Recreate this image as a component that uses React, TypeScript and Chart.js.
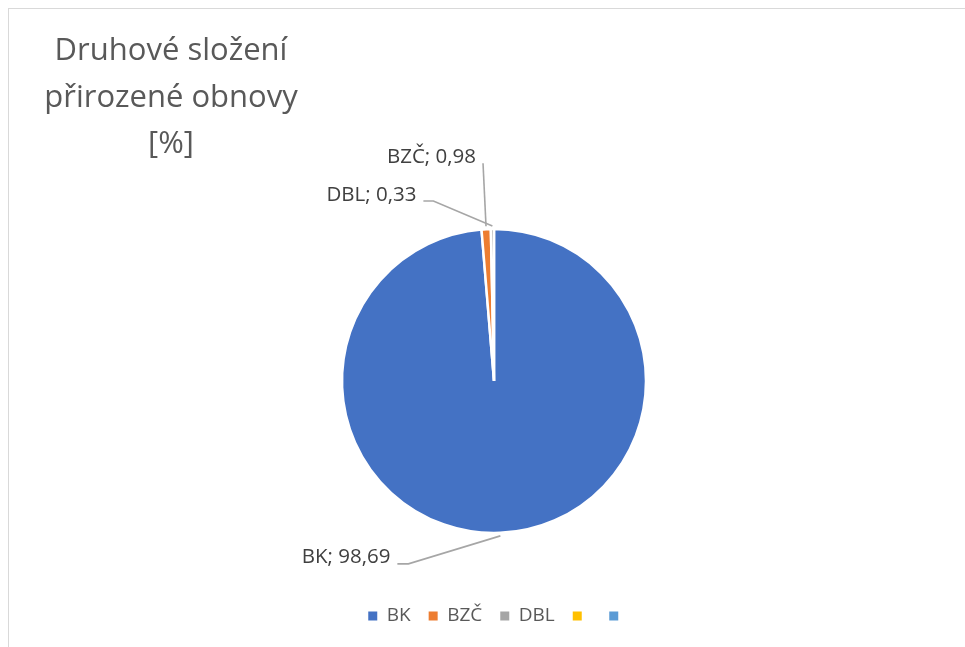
import React, { useEffect, useRef } from "react";
import { Chart, registerables } from "chart.js";

Chart.register(...registerables);

const categories = ["BK", "BZČ", "DBL", "", ""];
const values = [98.69, 0.98, 0.33, 0, 0];
const colors = ["#4472C4", "#ED7D31", "#A5A5A5", "#FFC000", "#5B9BD5"];
const titleLines = ["Druhové složení", "přirozené obnovy", "[%]"];

const FONT = '"Open Sans", "DejaVu Sans", sans-serif';
const fmt = (v: number) => v.toFixed(2).replace(".", ",");

// leader-line styling per labelled slice (offsets from the slice anchor)
const leaderLayout = [
  { dx: -92, dy: 28, tail: 11, ty: -7 },
  { dx: -3, dy: -63, tail: 0, ty: -6 },
  { dx: -59, dy: -25, tail: 10, ty: -6 },
];

const titlePlugin = {
  id: "sideTitle",
  afterDraw(chart: any) {
    const ctx = chart.ctx;
    ctx.save();
    ctx.font = `400 31px ${FONT}`;
    ctx.fillStyle = "#595959";
    ctx.textAlign = "center";
    ctx.textBaseline = "alphabetic";
    titleLines.forEach((t, i) => ctx.fillText(t, 162, 51 + i * 46.5));
    ctx.restore();
  },
};

const legendShift = {
  id: "legendShift",
  afterLayout(chart: any) {
    if (chart.legend) {
      chart.legend.left += 4;
      chart.legend.right += 4;
    }
  },
};

const labelPlugin = {
  id: "pieLabels",
  afterDatasetsDraw(chart: any) {
    const ctx = chart.ctx;
    const meta = chart.getDatasetMeta(0);
    ctx.save();
    ctx.strokeStyle = "#A6A6A6";
    ctx.lineWidth = 1.6;
    ctx.fillStyle = "#404040";
    ctx.font = `20.5px ${FONT}`;
    ctx.textAlign = "right";
    ctx.textBaseline = "middle";
    meta.data.forEach((arc: any, i: number) => {
      const lay = leaderLayout[i];
      if (!lay || !values[i]) return;
      const { x, y, startAngle, endAngle, outerRadius } = arc.getProps(
        ["x", "y", "startAngle", "endAngle", "outerRadius"],
        true
      );
      const mid = (startAngle + endAngle) / 2;
      const ax = x + Math.cos(mid) * (outerRadius + 3);
      const ay = y + Math.sin(mid) * (outerRadius + 3);
      const ex = ax + lay.dx;
      const ey = ay + lay.dy;
      const tx = ex - lay.tail;
      ctx.beginPath();
      ctx.moveTo(ax, ay);
      ctx.lineTo(ex, ey);
      ctx.lineTo(tx, ey);
      ctx.stroke();
      ctx.fillText(`${categories[i]}; ${fmt(values[i])}`, tx - 7, ey + lay.ty);
    });
    ctx.restore();
  },
};

export default function App() {
  const ref = useRef<HTMLCanvasElement>(null);
  useEffect(() => {
    if (!ref.current) return;
    const baseGen = (Chart as any).overrides.pie.plugins.legend.labels.generateLabels;
    const chart = new Chart(ref.current, {
      type: "pie",
      data: {
        labels: categories,
        datasets: [
          {
            data: values,
            backgroundColor: colors,
            borderColor: "#FFFFFF",
            borderWidth: 2.5,
          },
        ],
      },
      options: {
        responsive: false,
        animation: false,
        radius: 152,
        layout: { padding: { top: 164.5, bottom: 11.5, left: 14, right: 0 } },
        plugins: {
          tooltip: { enabled: false },
          title: { display: false },
          legend: {
            position: "bottom",
            labels: {
              boxWidth: 9,
              boxHeight: 9,
              padding: 18,
              color: "#595959",
              font: { family: FONT, size: 19 },
              generateLabels: (c: any) =>
                baseGen(c).map((l: any) => ({ ...l, lineWidth: 0, strokeStyle: l.fillStyle, hidden: false })),
            },
          },
        },
      } as any,
      plugins: [titlePlugin, labelPlugin, legendShift],
    });
    return () => chart.destroy();
  }, []);
  return (
    <div style={{ position: "fixed", left: 0, top: 0, width: 965, height: 647, background: "#fff", overflow: "hidden" }}>
      <div
        style={{
          position: "absolute",
          left: 8,
          top: 8,
          width: 957,
          height: 639,
          borderLeft: "1px solid #D9D9D9",
          borderTop: "1px solid #D9D9D9",
          boxSizing: "border-box",
        }}
      >
        <canvas ref={ref} width={956} height={638} style={{ display: "block" }} />
      </div>
    </div>
  );
}
